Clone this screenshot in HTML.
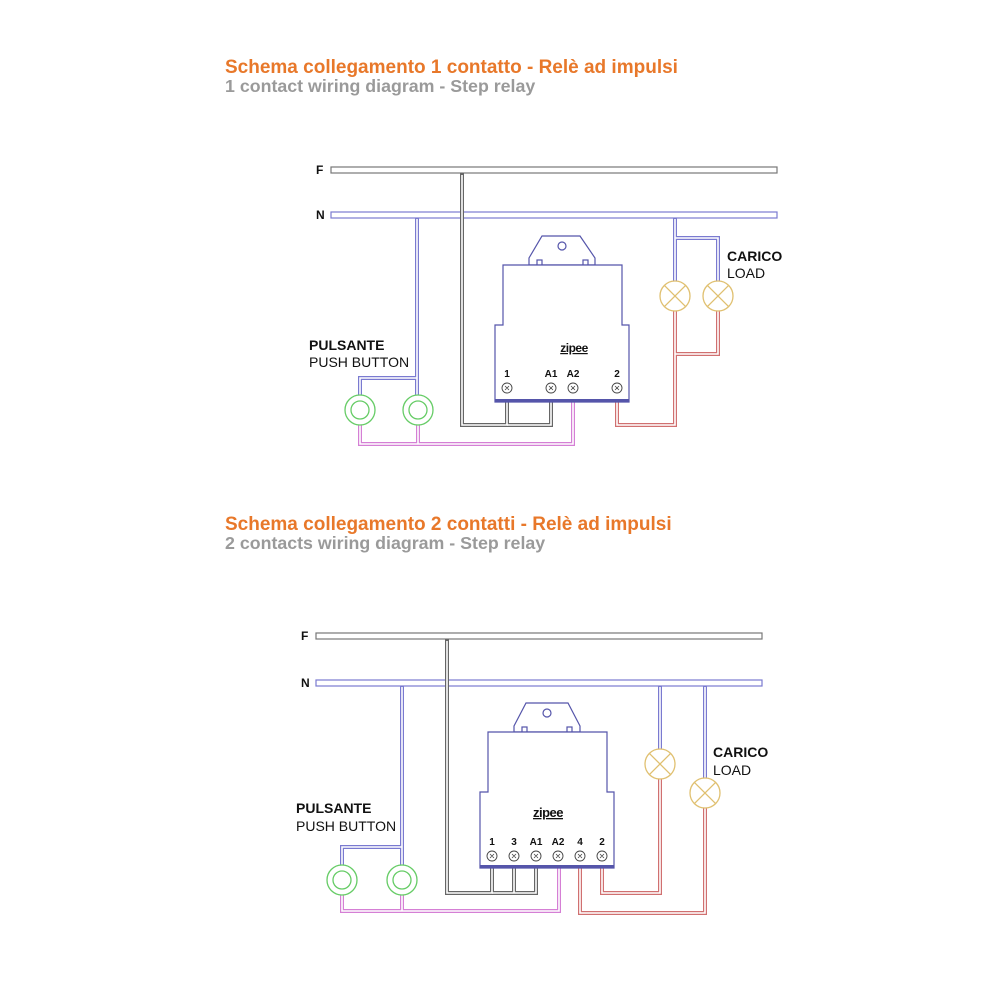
<!DOCTYPE html>
<html><head><meta charset="utf-8"><style>
html,body{margin:0;padding:0;background:#fff;}
svg{display:block;}
text{font-family:"Liberation Sans",Arial,sans-serif;}
.w{fill:none;stroke-linejoin:miter;}
</style></head><body>
<svg width="1000" height="1000" viewBox="0 0 1000 1000" xmlns="http://www.w3.org/2000/svg">
<rect width="1000" height="1000" fill="#fff"/>
<text x="225" y="73" font-size="19" font-weight="bold" fill="#e8782a">Schema collegamento 1 contatto - Relè ad impulsi</text>
<text x="225" y="92" font-size="17.8" font-weight="bold" fill="#9a9a9a">1 contact wiring diagram - Step relay</text>
<text x="225" y="530" font-size="19" font-weight="bold" fill="#e8782a">Schema collegamento 2 contatti - Relè ad impulsi</text>
<text x="225" y="549" font-size="17.8" font-weight="bold" fill="#9a9a9a">2 contacts wiring diagram - Step relay</text>

<!-- TOP -->
<g>
<rect x="331" y="167" width="446" height="6" fill="#fff" stroke="#777" stroke-width="1.2"/>
<rect x="331" y="212" width="446" height="6" fill="#fff" stroke="#7a7ad0" stroke-width="1.2"/>
<g class="w">
 <polyline points="462,173 462,425 507,425 507,402" stroke="#666" stroke-width="4"/>
 <polyline points="507,425 551,425 551,402" stroke="#666" stroke-width="4"/>
 <polyline points="417,218 417,395" stroke="#7a7ad0" stroke-width="4"/>
 <polyline points="360,395 360,378 417,378" stroke="#7a7ad0" stroke-width="4"/>
 <polyline points="360,425 360,444 573,444 573,402" stroke="#d57fd5" stroke-width="4"/>
 <polyline points="418,425 418,444" stroke="#d57fd5" stroke-width="4"/>
 <polyline points="675,218 675,281" stroke="#7a7ad0" stroke-width="4"/>
 <polyline points="675,238 718,238 718,281" stroke="#7a7ad0" stroke-width="4"/>
 <polyline points="718,311 718,354 675,354" stroke="#d07070" stroke-width="4"/>
 <polyline points="675,311 675,425 617,425 617,402" stroke="#d07070" stroke-width="4"/>
</g>
<g class="w" stroke="#fff" stroke-width="1.6">
 <polyline points="462,175 462,425 507,425 507,402"/>
 <polyline points="507,425 551,425 551,402"/>
 <polyline points="417,219 417,395"/>
 <polyline points="360,395 360,378 417,378"/>
 <polyline points="360,425 360,444 573,444 573,402"/>
 <polyline points="418,425 418,444"/>
 <polyline points="675,219 675,281"/>
 <polyline points="675,238 718,238 718,281"/>
 <polyline points="718,311 718,354 675,354"/>
 <polyline points="675,311 675,425 617,425 617,402"/>
</g>
<circle cx="360" cy="410" r="15" fill="#fff" stroke="#6c6" stroke-width="1.3"/>
<circle cx="360" cy="410" r="9" fill="#fff" stroke="#6c6" stroke-width="1.3"/>
<circle cx="418" cy="410" r="15" fill="#fff" stroke="#6c6" stroke-width="1.3"/>
<circle cx="418" cy="410" r="9" fill="#fff" stroke="#6c6" stroke-width="1.3"/>
<g stroke="#e0c070" stroke-width="1.3" fill="#fff">
<circle cx="675" cy="296" r="15"/><path d="M664.4 285.4L685.6 306.6M685.6 285.4L664.4 306.6"/>
<circle cx="718" cy="296" r="15"/><path d="M707.4 285.4L728.6 306.6M728.6 285.4L707.4 306.6"/>
</g>
<g fill="#fff" stroke="#5555aa" stroke-width="1.2">
<polygon points="529,265 529,258 542,236 580,236 595,258 595,265"/>
<circle cx="562" cy="246" r="4"/>
<rect x="537" y="260" width="5" height="5"/><rect x="583" y="260" width="5" height="5"/>
<polygon points="503,265 622,265 622,325 629,325 629,402 495,402 495,325 503,325"/>
</g>
<rect x="495" y="399" width="134" height="3" fill="#5555aa"/>
<text x="574" y="352" font-size="12" font-weight="bold" text-anchor="middle" fill="#111" text-decoration="underline" letter-spacing="-0.5">zipee</text>
<g font-size="10" font-weight="bold" text-anchor="middle" fill="#111">
<text x="507" y="377">1</text><text x="551" y="377">A1</text><text x="573" y="377">A2</text><text x="617" y="377">2</text>
</g>
<g fill="#fff" stroke="#444" stroke-width="0.9">
<circle cx="507" cy="388" r="5"/><circle cx="551" cy="388" r="5"/><circle cx="573" cy="388" r="5"/><circle cx="617" cy="388" r="5"/>
</g>
<g stroke="#444" stroke-width="0.8">
<path d="M505 386l4 4M509 386l-4 4M549 386l4 4M553 386l-4 4M571 386l4 4M575 386l-4 4M615 386l4 4M619 386l-4 4"/>
</g>
<text x="316" y="174" font-size="12" font-weight="bold" fill="#111">F</text>
<text x="316" y="219" font-size="12" font-weight="bold" fill="#111">N</text>
<text x="309" y="350" font-size="14" font-weight="bold" fill="#111">PULSANTE</text>
<text x="309" y="367" font-size="14" fill="#111">PUSH BUTTON</text>
<text x="727" y="261" font-size="14" font-weight="bold" fill="#111">CARICO</text>
<text x="727" y="278" font-size="14" fill="#111">LOAD</text>
</g>

<!-- BOTTOM -->
<g>
<rect x="316" y="633" width="446" height="6" fill="#fff" stroke="#777" stroke-width="1.2"/>
<rect x="316" y="680" width="446" height="6" fill="#fff" stroke="#7a7ad0" stroke-width="1.2"/>
<g class="w">
 <polyline points="447,639 447,893 492,893 492,868" stroke="#666" stroke-width="4"/>
 <polyline points="492,893 536,893 536,868" stroke="#666" stroke-width="4"/>
 <polyline points="514,868 514,893" stroke="#666" stroke-width="4"/>
 <polyline points="402,686 402,865" stroke="#7a7ad0" stroke-width="4"/>
 <polyline points="342,865 342,847 402,847" stroke="#7a7ad0" stroke-width="4"/>
 <polyline points="342,895 342,911 559,911 559,868" stroke="#d57fd5" stroke-width="4"/>
 <polyline points="402,895 402,911" stroke="#d57fd5" stroke-width="4"/>
 <polyline points="660,686 660,749" stroke="#7a7ad0" stroke-width="4"/>
 <polyline points="705,686 705,778" stroke="#7a7ad0" stroke-width="4"/>
 <polyline points="660,779 660,893 602,893 602,868" stroke="#d07070" stroke-width="4"/>
 <polyline points="705,808 705,913 580,913 580,868" stroke="#d07070" stroke-width="4"/>
</g>
<g class="w" stroke="#fff" stroke-width="1.6">
 <polyline points="447,641 447,893 492,893 492,868"/>
 <polyline points="492,893 536,893 536,868"/>
 <polyline points="514,868 514,893"/>
 <polyline points="402,687 402,865"/>
 <polyline points="342,865 342,847 402,847"/>
 <polyline points="342,895 342,911 559,911 559,868"/>
 <polyline points="402,895 402,911"/>
 <polyline points="660,687 660,749"/>
 <polyline points="705,687 705,778"/>
 <polyline points="660,779 660,893 602,893 602,868"/>
 <polyline points="705,808 705,913 580,913 580,868"/>
</g>
<circle cx="342" cy="880" r="15" fill="#fff" stroke="#6c6" stroke-width="1.3"/>
<circle cx="342" cy="880" r="9" fill="#fff" stroke="#6c6" stroke-width="1.3"/>
<circle cx="402" cy="880" r="15" fill="#fff" stroke="#6c6" stroke-width="1.3"/>
<circle cx="402" cy="880" r="9" fill="#fff" stroke="#6c6" stroke-width="1.3"/>
<g stroke="#e0c070" stroke-width="1.3" fill="#fff">
<circle cx="660" cy="764" r="15"/><path d="M649.4 753.4L670.6 774.6M670.6 753.4L649.4 774.6"/>
<circle cx="705" cy="793" r="15"/><path d="M694.4 782.4L715.6 803.6M715.6 782.4L694.4 803.6"/>
</g>
<g fill="#fff" stroke="#5555aa" stroke-width="1.2">
<polygon points="514,732 514,726 526,703 568,703 580,726 580,732"/>
<circle cx="547" cy="713" r="4"/>
<rect x="522" y="727" width="5" height="5"/><rect x="567" y="727" width="5" height="5"/>
<polygon points="488,732 607,732 607,792 614,792 614,868 480,868 480,792 488,792"/>
</g>
<rect x="480" y="865" width="134" height="3" fill="#5555aa"/>
<text x="548" y="817" font-size="13" font-weight="bold" text-anchor="middle" fill="#111" text-decoration="underline" letter-spacing="-0.5">zipee</text>
<g font-size="10" font-weight="bold" text-anchor="middle" fill="#111">
<text x="492" y="845">1</text><text x="514" y="845">3</text><text x="536" y="845">A1</text><text x="558" y="845">A2</text><text x="580" y="845">4</text><text x="602" y="845">2</text>
</g>
<g fill="#fff" stroke="#444" stroke-width="0.9">
<circle cx="492" cy="856" r="5"/><circle cx="514" cy="856" r="5"/><circle cx="536" cy="856" r="5"/><circle cx="558" cy="856" r="5"/><circle cx="580" cy="856" r="5"/><circle cx="602" cy="856" r="5"/>
</g>
<g stroke="#444" stroke-width="0.8">
<path d="M490 854l4 4M494 854l-4 4M512 854l4 4M516 854l-4 4M534 854l4 4M538 854l-4 4M556 854l4 4M560 854l-4 4M578 854l4 4M582 854l-4 4M600 854l4 4M604 854l-4 4"/>
</g>
<text x="301" y="640" font-size="12" font-weight="bold" fill="#111">F</text>
<text x="301" y="687" font-size="12" font-weight="bold" fill="#111">N</text>
<text x="296" y="813" font-size="14" font-weight="bold" fill="#111">PULSANTE</text>
<text x="296" y="831" font-size="14" fill="#111">PUSH BUTTON</text>
<text x="713" y="757" font-size="14" font-weight="bold" fill="#111">CARICO</text>
<text x="713" y="775" font-size="14" fill="#111">LOAD</text>
</g>
</svg>
</body></html>
